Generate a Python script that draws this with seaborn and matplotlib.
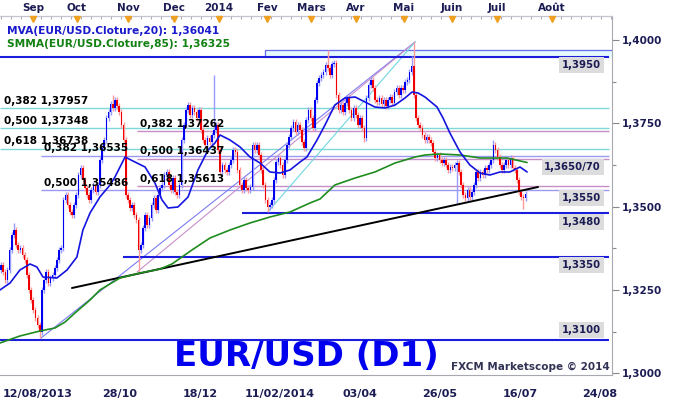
import numpy as np
import pandas as pd
import matplotlib
matplotlib.use("Agg")
import matplotlib.pyplot as plt
import seaborn as sns
from matplotlib.transforms import blended_transform_factory
from matplotlib.ticker import FixedLocator, MultipleLocator

sns.set_style("white")
plt.rcParams["font.family"] = ["DejaVu Sans"]

# ---------------- data ----------------
first_open = 1.3310
closes = [
    1.3325, 1.3304, 1.3280, 1.3310, 1.3370, 1.3415, 1.3430, 1.3385, 1.3370, 1.3376,
    1.3355, 1.3340, 1.3295, 1.3250, 1.3220, 1.3190, 1.3166, 1.3145, 1.3124, 1.3250,
    1.3280, 1.3304, 1.3271, 1.3286, 1.3295, 1.3316, 1.3340, 1.3370, 1.3376, 1.3520,
    1.3535, 1.3505, 1.3484, 1.3475, 1.3505, 1.3535, 1.3595, 1.3616, 1.3580, 1.3556,
    1.3535, 1.3520, 1.3550, 1.3565, 1.3544, 1.3565, 1.3640, 1.3676, 1.3700, 1.3766,
    1.3784, 1.3808, 1.3796, 1.3820, 1.3802, 1.3784, 1.3745, 1.3700, 1.3535, 1.3520,
    1.3496, 1.3505, 1.3475, 1.3460, 1.3370, 1.3385, 1.3436, 1.3475, 1.3445, 1.3466,
    1.3505, 1.3526, 1.3490, 1.3535, 1.3556, 1.3565, 1.3595, 1.3604, 1.3565, 1.3550,
    1.3586, 1.3544, 1.3535, 1.3565, 1.3700, 1.3745, 1.3790, 1.3805, 1.3775, 1.3796,
    1.3784, 1.3766, 1.3790, 1.3730, 1.3700, 1.3685, 1.3706, 1.3694, 1.3715, 1.3730,
    1.3745, 1.3670, 1.3604, 1.3625, 1.3610, 1.3604, 1.3625, 1.3640, 1.3670, 1.3664,
    1.3610, 1.3565, 1.3550, 1.3580, 1.3556, 1.3550, 1.3559, 1.3685, 1.3670, 1.3685,
    1.3655, 1.3610, 1.3565, 1.3520, 1.3499, 1.3505, 1.3520, 1.3580, 1.3634, 1.3646,
    1.3625, 1.3595, 1.3640, 1.3685, 1.3709, 1.3736, 1.3754, 1.3724, 1.3745, 1.3730,
    1.3694, 1.3676, 1.3760, 1.3790, 1.3766, 1.3736, 1.3820, 1.3871, 1.3886, 1.3895,
    1.3904, 1.3925, 1.3916, 1.3895, 1.3928, 1.3931, 1.3835, 1.3790, 1.3805, 1.3784,
    1.3811, 1.3826, 1.3790, 1.3766, 1.3796, 1.3775, 1.3745, 1.3766, 1.3736, 1.3706,
    1.3826, 1.3865, 1.3880, 1.3856, 1.3820, 1.3814, 1.3826, 1.3808, 1.3820, 1.3802,
    1.3820, 1.3829, 1.3811, 1.3844, 1.3856, 1.3835, 1.3856, 1.3850, 1.3874, 1.3880,
    1.3904, 1.3922, 1.3835, 1.3766, 1.3745, 1.3736, 1.3715, 1.3700, 1.3709, 1.3700,
    1.3691, 1.3664, 1.3646, 1.3655, 1.3640, 1.3631, 1.3640, 1.3625, 1.3610, 1.3619,
    1.3616, 1.3625, 1.3630, 1.3604, 1.3565, 1.3535, 1.3526, 1.3550, 1.3529, 1.3544,
    1.3565, 1.3604, 1.3586, 1.3604, 1.3595, 1.3616, 1.3610, 1.3625, 1.3640, 1.3685,
    1.3670, 1.3649, 1.3625, 1.3610, 1.3625, 1.3640, 1.3625, 1.3646, 1.3616, 1.3610,
    1.3580, 1.3544, 1.3529, 1.3526, 1.3538,
]
high_bars = [6, 52, 99, 152, 191, 192, 229]
high_vals = [1.3451, 1.3835, 1.3895, 1.3970, 1.3952, 1.3994, 1.3700]
low_bars = [18, 64, 124, 169, 212, 243]
low_vals = [1.3106, 1.3305, 1.3484, 1.3694, 1.3511, 1.3493]

# MVA(20) and SMMA(85) read as (bar, value)
mva_bar = [-0.5, 4.2, 8.8, 13.5, 16.7, 19.5, 26, 30.7, 35.3, 38.1, 41.4, 46, 50.7, 53, 57.7,
           62.3, 67, 71.6, 74.9, 77.7, 82.3, 87, 91.6, 96.3, 99.5, 101.9, 106.5, 111.2,
           115.8, 120.5, 125.1, 129.8, 134.4, 139.1, 142.3, 147, 150.7, 155.3, 160, 164.7,
           169.3, 173.9, 178.6, 183.3, 187.9, 191.2, 194, 197.2, 202.8, 205.6, 208.8,
           213.5, 218.1, 222.8, 227.4, 232.1, 236.7, 241.4, 244.7]
mva_val = [1.3250, 1.3271, 1.3310, 1.3328, 1.3319, 1.3289, 1.3286, 1.3310, 1.3349, 1.3430,
           1.3481, 1.3529, 1.3565, 1.3589, 1.3649, 1.3634, 1.3619, 1.3571, 1.3520, 1.3496,
           1.3499, 1.3529, 1.3610, 1.3670, 1.3691, 1.3715, 1.3700, 1.3679, 1.3649, 1.3631,
           1.3604, 1.3601, 1.3610, 1.3634, 1.3649, 1.3700, 1.3745, 1.3805, 1.3826, 1.3829,
           1.3814, 1.3799, 1.3796, 1.3805, 1.3826, 1.3844, 1.3841, 1.3829, 1.3799, 1.3766,
           1.3721, 1.3664, 1.3625, 1.3601, 1.3595, 1.3604, 1.3604, 1.3619, 1.36041]
smma_bar = [-0.5, 8.8, 18.1, 25.1, 29.8, 34.4, 41.4, 46, 55.3, 64.7, 74, 79.5, 88.8, 97.2,
            106.5, 115.8, 125.1, 134.4, 143.7, 148.4, 155.3, 164.7, 173.9, 183.3, 192.6,
            197.2, 204.2, 213.5, 222.8, 235.3, 244.7]
smma_val = [1.3091, 1.3112, 1.3127, 1.3136, 1.3154, 1.3181, 1.3220, 1.3250, 1.3286, 1.3301,
            1.3313, 1.3328, 1.3370, 1.3406, 1.3430, 1.3451, 1.3469, 1.3484, 1.3511, 1.3523,
            1.3565, 1.3586, 1.3604, 1.3631, 1.3649, 1.3655, 1.3658, 1.3655, 1.3646, 1.3646,
            1.36325]

# horizontal support / resistance levels: (value, start bar)
level_vals = [1.3950, 1.3480, 1.3350, 1.3100]
level_start = [-0.5, 111.9, 56.7, -0.5]
zone_low, zone_high, zone_start = 1.3950, 1.3970, 122.8
level_labels = ["1,3950", "1,3650/70", "1,3550", "1,3480", "1,3350", "1,3100"]
level_label_y = [1.3925, 1.3619, 1.3526, 1.3454, 1.3325, 1.3130]

# Fibonacci retracement sets
fib1_ratio = ["0,382", "0,500", "0,618"]
fib1_vals = [1.37957, 1.37348, 1.36738]
fib2_ratio = ["0,382", "0,500"]
fib2_vals = [1.36535, 1.35486]
fib3_ratio = ["0,382", "0,500", "0,618"]
fib3_vals = [1.37262, 1.36437, 1.35613]
fib_starts = [-0.5, 18.6, 63.3]

# trend line and fan lines (bar, value pairs)
trend_bar = [33.0, 249.8]
trend_val = [1.3256, 1.3559]
fan_from_bar = [18.6, 63.3, 123.7]
fan_from_val = [1.3106, 1.3304, 1.3481]
fan_to_bar, fan_to_val = 192.6, 1.3994

month_labels = ["Sep", "Oct", "Nov", "Dec", "2014", "Fev", "Mars", "Avr", "Mai", "Juin", "Juil", "Août"]
month_pos = [14.9, 35.3, 59.1, 80.5, 101.4, 123.7, 144.2, 165.1, 187.4, 209.8, 230.7, 256.3]
date_labels = ["12/08/2013", "28/10", "18/12", "11/02/2014", "03/04", "26/05", "16/07", "24/08"]
date_pos = [17.0, 55.3, 92.6, 129.8, 167.0, 204.2, 241.4, 278.6]
y_ticks = [1.3000, 1.3250, 1.3500, 1.3750, 1.4000]

# ---------------- figure ----------------
W, H = 679, 404
fig = plt.figure(figsize=(W / 100, H / 100), dpi=100)
ax = fig.add_axes([0, (H - 375) / H, 612 / W, (375 - 16) / H])
ax.set_xlim(-0.47, 284.2)
ax.set_ylim(1.2995, 1.4072)
NAVY = "#1c1c55"

# levels / zone
ax.fill_between([zone_start, 284.2], zone_low, zone_high, color="#e4fafc", zorder=1)
ax.plot([zone_start, zone_start, 284.2], [zone_low, zone_high, zone_high], color="#6a6af0", lw=0.9, zorder=2)
for v, s in zip(level_vals, level_start):
    ax.hlines(v, s, 282.8, color="#1c1cdc", lw=1.5, zorder=3)

# fib lines
for vals, col, s in [(fib1_vals, "#7fd8d8", fib_starts[0]), (fib2_vals, "#9a9af2", fib_starts[1]),
                     (fib3_vals, "#c58ec5", fib_starts[2])]:
    for v in vals:
        ax.hlines(v, s, 282.8, color=col, lw=1.0, zorder=2)

# fan lines
for b0, v0, col in zip(fan_from_bar, fan_from_val, ["#7c7cf4", "#c890c8", "#70d6e0"]):
    sns.lineplot(x=[b0, fan_to_bar], y=[v0, fan_to_val], ax=ax, color=col, lw=0.8, zorder=2)
sns.lineplot(x=trend_bar, y=trend_val, ax=ax, color="black", lw=1.4, zorder=6)

# candles
n = len(closes)
xb = np.arange(n)
c = np.array(closes)
o = np.array([first_open] + closes[:-1])
top = np.maximum(o, c)
bot = np.minimum(o, c)
hi = top + 0.0009
lo = bot - 0.0009
for b, v in zip(high_bars, high_vals):
    hi[b] = v
for b, v in zip(low_bars, low_vals):
    lo[b] = v
up = c >= o
ax.vlines(xb[up], lo[up], hi[up], color="#9a9aff", lw=1.0, zorder=4)
ax.vlines(xb[~up], lo[~up], hi[~up], color="#ff9a9a", lw=1.0, zorder=4)
hgt = np.maximum(top - bot, 0.0002)
ax.bar(xb[up], hgt[up], bottom=bot[up], width=0.75, color="#0000f0", linewidth=0, zorder=5)
ax.bar(xb[~up], hgt[~up], bottom=bot[~up], width=0.75, color="#f00000", linewidth=0, zorder=5)

# moving averages
sns.lineplot(x=smma_bar, y=smma_val, ax=ax, color="#1e8c1e", lw=1.2, zorder=7, estimator=None, sort=False)
sns.lineplot(x=mva_bar, y=mva_val, ax=ax, color="#1414e0", lw=1.2, zorder=7, estimator=None, sort=False)

# fib labels
fs = 7.5
def fib_labels(ratios, vals, xs):
    for r, v in zip(ratios, vals):
        ax.annotate(f"{r} {v:.5f}".replace(".", ","), (xs, v), xytext=(2, 1.8),
                    textcoords="offset points", fontsize=fs, fontweight="bold",
                    color="black", va="bottom", ha="left", zorder=9)
fib_labels(fib1_ratio, fib1_vals, fib_starts[0] + 0.5)
fib_labels(fib2_ratio, fib2_vals, fib_starts[1])
fib_labels(fib3_ratio, fib3_vals, fib_starts[2])

# level labels with grey boxes
tr = blended_transform_factory(ax.transAxes, ax.transData)
for lab, yv in zip(level_labels, level_label_y):
    ax.text(0.982, yv, lab, transform=tr, ha="right", va="center", fontsize=7.3,
            fontweight="bold", color=NAVY, zorder=10,
            bbox=dict(boxstyle="square,pad=0.25", fc="#dcdcdc", ec="none"))

# axes styling
ax.spines["left"].set_visible(False)
ax.spines["top"].set_color("#c4c4d0")
ax.spines["right"].set_color("#a8a8b0")
ax.spines["bottom"].set_color("#a8a8b0")
ax.yaxis.tick_right()
ax.set_yticks(y_ticks)
ax.set_yticklabels([f"{v:.4f}".replace(".", ",") for v in y_ticks])
ax.yaxis.set_minor_locator(MultipleLocator(0.0125))
ax.tick_params(axis="y", which="major", direction="out", length=5, width=0.8, color="#888888",
               labelsize=7.5, labelcolor=NAVY, pad=2)
ax.tick_params(axis="y", which="minor", direction="out", length=3, width=0.8, color="#888888")
for t in ax.get_yticklabels():
    t.set_fontweight("bold")

ax.set_xticks(date_pos)
ax.set_xticklabels(date_labels)
ax.xaxis.set_minor_locator(FixedLocator(np.arange(18.1 - 9.3 * 2, 284, 9.3)))
ax.tick_params(axis="x", which="major", direction="out", length=5, width=0.8, color="#888888",
               labelsize=8, labelcolor=NAVY, pad=5)
ax.tick_params(axis="x", which="minor", direction="out", length=3, width=0.8, color="#888888")
for t in ax.get_xticklabels():
    t.set_fontweight("bold")
ax.set_xlabel("")
ax.set_ylabel("")

sec = ax.secondary_xaxis("top")
sec.set_xticks(month_pos)
sec.set_xticklabels(month_labels)
sec.xaxis.set_minor_locator(MultipleLocator(4.65))
sec.tick_params(axis="x", which="major", direction="in", length=3, color="#999999",
                labelsize=7.5, labelcolor=NAVY, pad=2)
sec.tick_params(axis="x", which="minor", direction="in", length=2, color="#999999")
sec.spines["top"].set_color("#c4c4d0")
for t in sec.get_xticklabels():
    t.set_fontweight("bold")

trx = blended_transform_factory(ax.transData, ax.transAxes)
ax.plot(month_pos, [0.992] * len(month_pos), transform=trx, ls="none", marker="v",
        ms=4, color="#f0a020", clip_on=False, zorder=11)

# texts
fig.text(7 / W, 1 - 31 / H, "MVA(EUR/USD.Cloture,20): 1,36041", color="#1a1acc",
         fontsize=7.7, fontweight="bold", va="center", ha="left")
fig.text(7 / W, 1 - 44 / H, "SMMA(EUR/USD.Cloture,85): 1,36325", color="#128012",
         fontsize=7.7, fontweight="bold", va="center", ha="left")
fig.text(306 / W, 1 - 357 / H, "EUR/USD (D1)", color="#0000ee", fontsize=24.5,
         fontweight="bold", va="center", ha="center")
fig.text(610 / W, 1 - 367 / H, "FXCM Marketscope © 2014", color="#333355", fontsize=7.5,
         fontweight="bold", va="center", ha="right")

fig.savefig("out.png", dpi=100)
